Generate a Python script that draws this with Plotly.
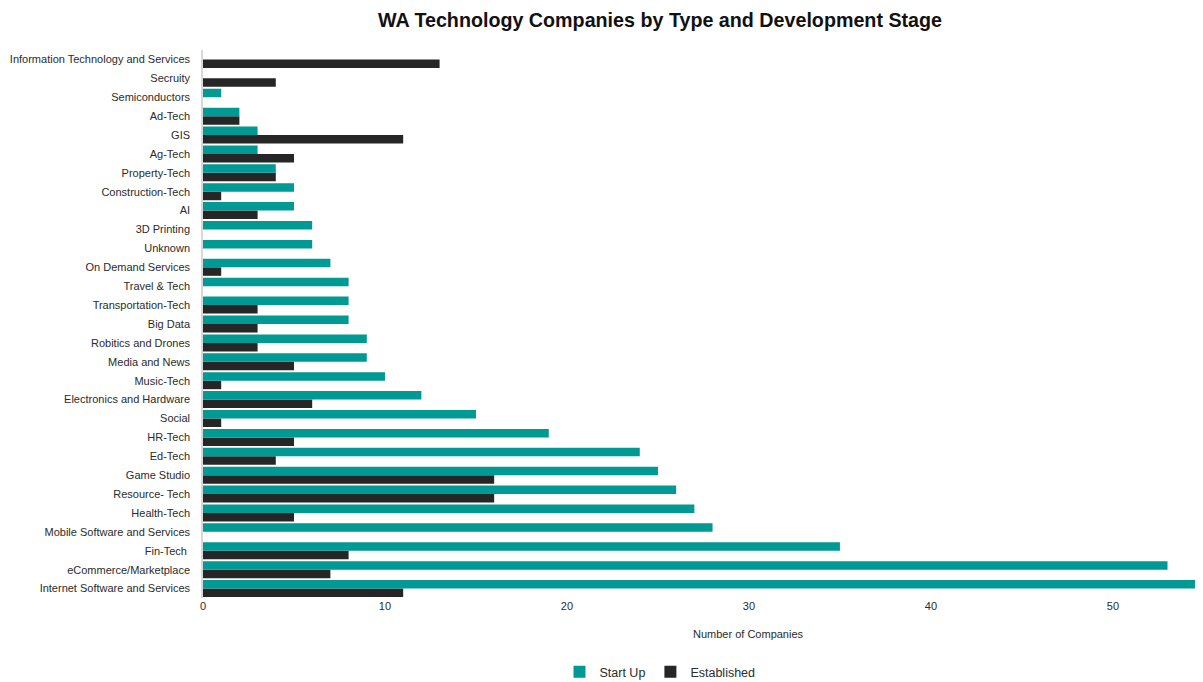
import plotly.graph_objects as go

categories = [
    "Internet Software and Services", "eCommerce/Marketplace", "Fin-Tech ",
    "Mobile Software and Services", "Health-Tech", "Resource- Tech", "Game Studio",
    "Ed-Tech", "HR-Tech", "Social", "Electronics and Hardware", "Music-Tech",
    "Media and News", "Robitics and Drones", "Big Data", "Transportation-Tech",
    "Travel & Tech", "On Demand Services", "Unknown", "3D Printing", "AI",
    "Construction-Tech", "Property-Tech", "Ag-Tech", "GIS", "Ad-Tech",
    "Semiconductors", "Secruity", "Information Technology and Services",
]
start_up = [56, 53, 35, 28, 27, 26, 25, 24, 19, 15, 12, 10, 9, 9, 8, 8, 8, 7, 6, 6,
            5, 5, 4, 3, 3, 2, 1, 0, 0]
established = [11, 7, 8, 0, 5, 16, 16, 4, 5, 1, 6, 1, 5, 3, 3, 3, 0, 1, 0, 0,
               3, 1, 4, 5, 11, 2, 0, 4, 13]

FONT = "Liberation Sans, Arial, sans-serif"
W, H = 1195, 674

fig = go.Figure()
fig.add_trace(go.Bar(y=categories, x=established, name="Established", orientation="h",
                     marker=dict(color="#262626", line=dict(width=0))))
fig.add_trace(go.Bar(y=categories, x=start_up, name="Start Up", orientation="h",
                     marker=dict(color="#009993", line=dict(width=0))))

fig.update_layout(
    width=W, height=H,
    margin=dict(l=195, r=0, t=42, b=84, autoexpand=False),
    paper_bgcolor="white", plot_bgcolor="white",
    barmode="group", bargap=0.1, bargroupgap=0,
    font=dict(family=FONT, size=11, color="#2b2b2b"),
    title=dict(text="<b>WA Technology Companies by Type and Development Stage</b>",
               x=652 / W, xanchor="center", y=1 - 12 / H, yref="container",
               yanchor="middle",
               font=dict(family=FONT, size=19.7, color="#111111")),
    showlegend=True,
    legend=dict(orientation="h", traceorder="reversed", x=652 / W, xref="container",
                xanchor="center", y=-74 / 548, yref="paper", yanchor="middle",
                font=dict(size=12.5), itemwidth=30),
    xaxis=dict(range=[0, 54.95], dtick=10, showgrid=False, zeroline=False,
               showline=False, ticks="", tickfont=dict(size=11), automargin=False),
    yaxis=dict(showgrid=False, zeroline=False, showline=True, linecolor="#d9d9d9",
               linewidth=1.5, ticks="", ticklabelstandoff=9, tickfont=dict(size=11),
               automargin=False),
    annotations=[dict(text="Number of Companies", x=30, xref="x", y=-36 / 548,
                      yref="paper", yanchor="middle", showarrow=False,
                      font=dict(size=11, color="#2b2b2b"))],
)

fig.write_html("out.html")
